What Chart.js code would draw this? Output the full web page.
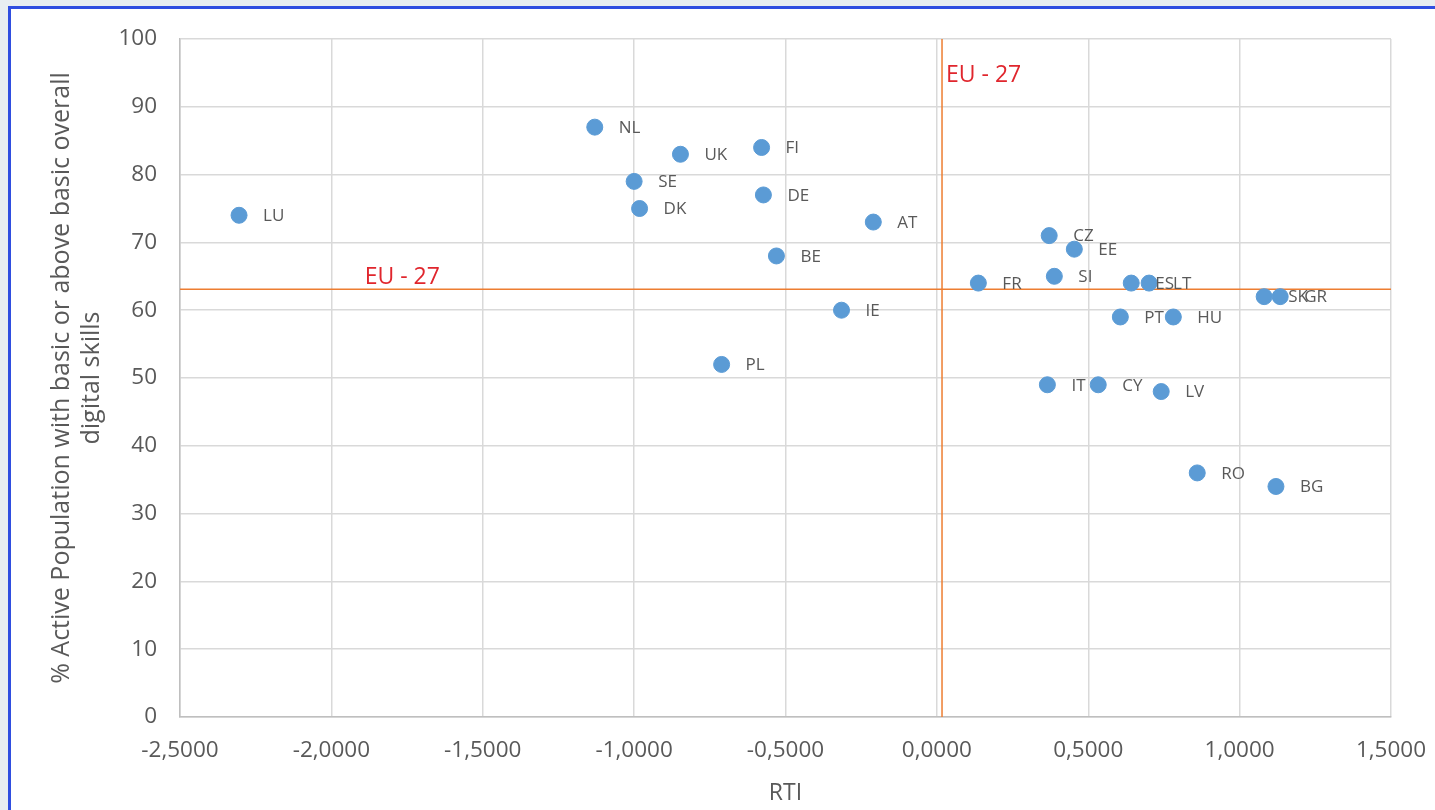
<!DOCTYPE html>
<html>
<head>
<meta charset="utf-8">
<script src="https://cdn.jsdelivr.net/npm/chart.js@4"></script>
<style>
  body { margin: 0; background: #e8eef1; width: 1435px; height: 810px; overflow: hidden; }
  .frame { position: absolute; left: 8px; top: 6px; right: 0; bottom: 0;
           border-top: 3px solid #2f4ee0; border-left: 3px solid #2f4ee0; background: #fff; }
  #chart { position: absolute; left: 0; top: 0; }
</style>
</head>
<body>
<div class="frame"></div>
<canvas id="chart" width="1435" height="810"></canvas>
<script>
// Country codes, RTI (x) and % with basic or above basic digital skills (y)
const countries = ["LU", "NL", "UK", "FI", "SE", "DK", "DE", "AT", "BE", "IE", "PL",
  "FR", "CZ", "EE", "SI", "ES", "LT", "SK", "GR", "PT", "HU", "IT", "CY", "LV", "RO", "BG"];
const rti = [-2.305, -1.130, -0.847, -0.579, -1.000, -0.982, -0.573, -0.210, -0.530, -0.315, -0.711,
  0.137, 0.371, 0.454, 0.388, 0.642, 0.701, 1.081, 1.134, 0.606, 0.781, 0.365, 0.533, 0.741, 0.860, 1.120];
const skills = [74, 87, 83, 84, 79, 75, 77, 73, 68, 60, 52,
  64, 71, 69, 65, 64, 64, 62, 62, 59, 59, 49, 49, 48, 36, 34];

// EU-27 averages (reference lines)
const euRti = 0.017;
const euSkills = 63.1;

const xTicks = [-2.5, 1.5];   // min, max
const yTicks = [0, 100];

const points = rti.map((x, i) => ({ x: x, y: skills[i] }));

// Draws country codes next to points and the EU - 27 captions
const labelPlugin = {
  id: "labels",
  afterDatasetsDraw(chart) {
    const ctx = chart.ctx;
    const meta = chart.getDatasetMeta(0);
    ctx.save();
    ctx.font = "17px 'Open Sans'";
    ctx.fillStyle = "#595959";
    ctx.textAlign = "left";
    ctx.textBaseline = "middle";
    meta.data.forEach((pt, i) => {
      ctx.fillText(countries[i], pt.x + 24, pt.y + 1);
    });

    const xs = chart.scales.x, ys = chart.scales.y;
    ctx.font = "23px 'Open Sans'";
    ctx.fillStyle = "#e0262d";
    ctx.fillText("EU - 27", xs.getPixelForValue(euRti) + 4, ys.getPixelForValue(94.6));
    ctx.textBaseline = "alphabetic";
    ctx.fillText("EU - 27", xs.getPixelForValue(-1.89), ys.getPixelForValue(euSkills) - 5);
    ctx.restore();
  }
};

new Chart(document.getElementById("chart"), {
  type: "scatter",
  data: {
    datasets: [
      {
        label: "Countries",
        data: points,
        backgroundColor: "#5b9bd5",
        borderColor: "#5b9bd5",
        pointRadius: 8,
        order: 0
      },
      {
        label: "EU-27 RTI",
        data: [{ x: euRti, y: yTicks[0] }, { x: euRti, y: yTicks[1] }],
        showLine: true,
        borderColor: "#ed7d31",
        borderWidth: 1.5,
        pointRadius: 0,
        order: 1
      },
      {
        label: "EU-27 skills",
        data: [{ x: xTicks[0], y: euSkills }, { x: xTicks[1], y: euSkills }],
        showLine: true,
        borderColor: "#ed7d31",
        borderWidth: 1.5,
        pointRadius: 0,
        order: 1
      }
    ]
  },
  options: {
    responsive: false,
    animation: false,
    clip: false,
    layout: { padding: { left: 47, right: 44, top: 39, bottom: 3 } },
    plugins: {
      legend: { display: false },
      tooltip: { enabled: false }
    },
    scales: {
      x: {
        type: "linear",
        min: xTicks[0],
        max: xTicks[1],
        ticks: {
          stepSize: 0.5,
          padding: 20,
          color: "#595959",
          font: { size: 22.5, family: "'Open Sans'" },
          callback: v => v.toFixed(4).replace(".", ",")
        },
        grid: { color: "#d9d9d9", lineWidth: 1.5, drawTicks: false },
        border: { color: "#bfbfbf", width: 1.5 },
        title: {
          display: true,
          text: "RTI",
          color: "#595959",
          font: { size: 23, family: "'Open Sans'" },
          padding: { top: 4, bottom: 0 }
        },
        afterFit: s => {
          s.height = 90;
          s.paddingLeft = 0;   // keep the plot edges where the layout padding puts them
          s.paddingRight = 0;
        }
      },
      y: {
        min: yTicks[0],
        max: yTicks[1],
        ticks: {
          stepSize: 10,
          padding: 23,
          color: "#595959",
          font: { size: 22.5, family: "'Open Sans'" }
        },
        grid: { color: "#d9d9d9", lineWidth: 1.5, drawTicks: false },
        border: { color: "#bfbfbf", width: 1.5 },
        title: {
          display: true,
          text: ["% Active Population with basic or above basic overall", "digital skills"],
          color: "#595959",
          font: { size: 25, family: "'Open Sans'", lineHeight: 1.2 },
          padding: { top: 0, bottom: 0 }
        },
        afterFit: s => {
          s.width = 133;
          s.paddingTop = 0;
          s.paddingBottom = 0;
        }
      }
    }
  },
  plugins: [labelPlugin]
});
</script>
</body>
</html>
